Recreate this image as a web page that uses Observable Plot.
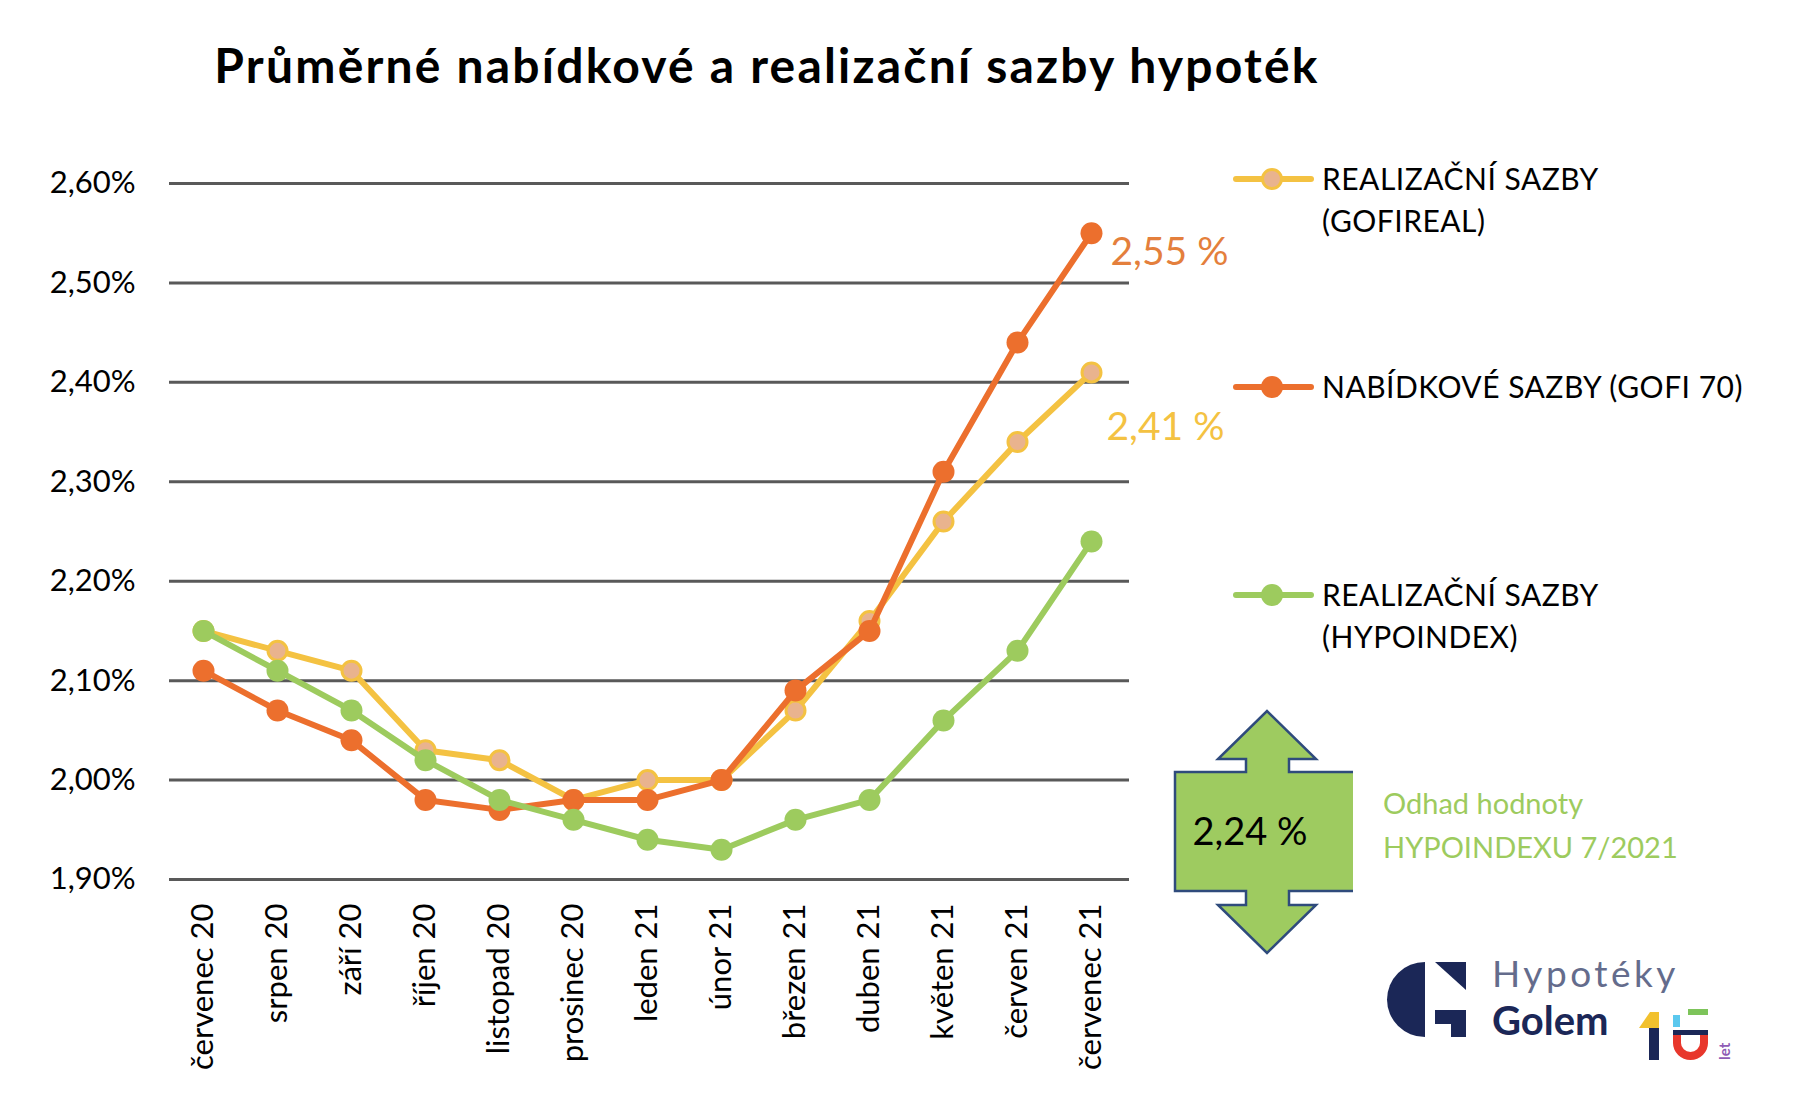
<!DOCTYPE html>
<html>
<head>
<meta charset="utf-8">
<script src="https://cdn.jsdelivr.net/npm/d3@7"></script>
<script src="https://cdn.jsdelivr.net/npm/@observablehq/plot@0.6"></script>
<style>
  html, body { margin: 0; padding: 0; background: #fff; }
  #wrap { position: relative; width: 1804px; height: 1110px; overflow: hidden; font-family: Lato, sans-serif; }
  #title { position: absolute; left: 0; top: 36px; width: 1534px; text-align: center; font: bold 48px/1.2 Lato, sans-serif; letter-spacing: 2.2px; color: #000; }
  #chart { position: absolute; left: 0; top: 150px; }
  #overlay { position: absolute; left: 0; top: 0; }
</style>
</head>
<body>
<div id="wrap">
  <div id="title">Průměrné nabídkové a realizační sazby hypoték</div>
  <div id="chart"></div>
  <svg id="overlay" width="1804" height="1110"></svg>
</div>
<script>
const months = ["červenec 20","srpen 20","září 20","říjen 20","listopad 20","prosinec 20","leden 21","únor 21","březen 21","duben 21","květen 21","červen 21","červenec 21"];
const gofireal  = [2.15,2.13,2.11,2.03,2.02,1.98,2.00,2.00,2.07,2.16,2.26,2.34,2.41];
const gofi70    = [2.11,2.07,2.04,1.98,1.97,1.98,1.98,2.00,2.09,2.15,2.31,2.44,2.55];
const hypoindex = [2.15,2.11,2.07,2.02,1.98,1.96,1.94,1.93,1.96,1.98,2.06,2.13,2.24];
const yTicks = [1.9,2.0,2.1,2.2,2.3,2.4,2.5,2.6];
const seriesNames = ["REALIZAČNÍ SAZBY (GOFIREAL)","NABÍDKOVÉ SAZBY (GOFI 70)","REALIZAČNÍ SAZBY (HYPOINDEX)"];
const hypoEstimate = 2.24;

const colYellow = "#F4C242", colPeach = "#E9B38E", colOrange = "#EC6F2D", colGreen = "#9DCB5E";
const comma = (v, d) => v.toFixed(d).replace(".", ",");

const rows = (vals, s) => vals.map((v, i) => ({month: months[i], value: v, series: s}));
const dY = rows(gofireal, seriesNames[0]);
const dO = rows(gofi70, seriesNames[1]);
const dG = rows(hypoindex, seriesNames[2]);

const chart = Plot.plot({
  width: 1804, height: 960,
  marginLeft: 169, marginRight: 675, marginTop: 33, marginBottom: 231,
  style: {fontFamily: "Lato, sans-serif", fontSize: "31px", color: "#000", background: "transparent", overflow: "visible"},
  x: {type: "point", domain: months, range: [202, 1091], padding: 0, label: null},
  y: {domain: [1.9, 2.6], label: null},
  marks: [
    Plot.ruleY(yTicks, {stroke: "#595959", strokeWidth: 3}),
    Plot.axisY({ticks: yTicks, tickFormat: d => comma(d, 2) + "%", tickSize: 0, tickPadding: 34, label: null}),
    Plot.axisX({tickRotate: -90, tickSize: 0, tickPadding: 24, label: null}),
    Plot.line(dY, {x: "month", y: "value", stroke: colYellow, strokeWidth: 6}),
    Plot.dot(dY, {x: "month", y: "value", r: 9.5, fill: colPeach, stroke: colYellow, strokeWidth: 3}),
    Plot.line(dO, {x: "month", y: "value", stroke: colOrange, strokeWidth: 6}),
    Plot.dot(dO, {x: "month", y: "value", r: 11, fill: colOrange}),
    Plot.line(dG, {x: "month", y: "value", stroke: colGreen, strokeWidth: 6}),
    Plot.dot(dG, {x: "month", y: "value", r: 11, fill: colGreen}),
    Plot.text(dO.slice(-1), {x: "month", y: "value", text: d => comma(d.value, 2) + " %", fill: "#E47F3C", fontSize: 39, textAnchor: "start", lineAnchor: "middle", dx: 19, dy: 19}),
    Plot.text(dY.slice(-1), {x: "month", y: "value", text: d => comma(d.value, 2) + " %", fill: colYellow, fontSize: 39, textAnchor: "start", lineAnchor: "middle", dx: 15, dy: 55})
  ]
});
document.getElementById("chart").appendChild(chart);

// overlay: legend, estimate arrow, logo
const ov = d3.select("#overlay");
const legend = [
  {lines: ["REALIZAČNÍ SAZBY", "(GOFIREAL)"], y: 179, stroke: colYellow, fill: colPeach, ms: colYellow},
  {lines: ["NABÍDKOVÉ SAZBY (GOFI 70)"], y: 387, stroke: colOrange, fill: colOrange, ms: null},
  {lines: ["REALIZAČNÍ SAZBY", "(HYPOINDEX)"], y: 595, stroke: colGreen, fill: colGreen, ms: null}
];
legend.forEach(l => {
  ov.append("line").attr("x1", 1236).attr("x2", 1311).attr("y1", l.y).attr("y2", l.y)
    .attr("stroke", l.stroke).attr("stroke-width", 6).attr("stroke-linecap", "round");
  ov.append("circle").attr("cx", 1272).attr("cy", l.y).attr("r", l.ms ? 9.5 : 11)
    .attr("fill", l.fill).attr("stroke", l.ms || "none").attr("stroke-width", 3);
  l.lines.forEach((t, i) => {
    ov.append("text").attr("x", 1322).attr("y", l.y + 11 + i * 42)
      .attr("font-family", "Lato, sans-serif").attr("font-size", 30).attr("letter-spacing", 0.5).attr("fill", "#000").text(t);
  });
});

// double arrow with box
const arrowPts = [[1353,772],[1289,772],[1289,759],[1316,759],[1267,711],[1218,759],[1246,759],[1246,772],[1175,772],[1175,891],[1246,891],[1246,905],[1218,905],[1267,953],[1316,905],[1289,905],[1289,891],[1353,891]];
ov.append("polygon").attr("points", arrowPts.map(p => p.join(",")).join(" ")).attr("fill", "#9ECB60");
ov.append("polyline").attr("points", arrowPts.map(p => p.join(",")).join(" ")).attr("fill", "none")
  .attr("stroke", "#2F4B7C").attr("stroke-width", 2.5).attr("stroke-linejoin", "miter");
ov.append("text").attr("x", 1250).attr("y", 845).attr("text-anchor", "middle")
  .attr("font-family", "Lato, sans-serif").attr("font-size", 38).attr("fill", "#000").text(comma(hypoEstimate, 2) + " %");
ov.append("text").attr("x", 1383).attr("y", 814).attr("font-family", "Lato, sans-serif").attr("font-size", 29).attr("fill", colGreen).text("Odhad hodnoty");
ov.append("text").attr("x", 1383).attr("y", 858).attr("font-family", "Lato, sans-serif").attr("font-size", 29).attr("fill", colGreen).text("HYPOINDEXU 7/2021");

// logo
const navy = "#1B2757";
ov.append("path").attr("d", "M1425,962 A38,37.5 0 0 0 1425,1037 Z").attr("fill", navy);
ov.append("polygon").attr("points", "1435,962 1466,962 1466,990").attr("fill", navy);
ov.append("polygon").attr("points", "1435,1010 1466,1010 1466,1037 1451,1037 1451,1024 1435,1024").attr("fill", navy);
ov.append("text").attr("x", 1492).attr("y", 987).attr("font-family", "Lato, sans-serif").attr("font-weight", 400).attr("font-size", 37).attr("letter-spacing", 3.5).attr("fill", "#646C8C").text("Hypotéky");
ov.append("text").attr("x", 1492).attr("y", 1035).attr("font-family", "Lato, sans-serif").attr("font-weight", 700).attr("font-size", 40).attr("fill", navy).text("Golem");
ov.append("polygon").attr("points", "1639,1028 1650,1012 1659,1012 1659,1028").attr("fill", "#F2C12E");
ov.append("rect").attr("x", 1649).attr("y", 1028).attr("width", 10).attr("height", 32).attr("fill", navy);
ov.append("rect").attr("x", 1688).attr("y", 1009).attr("width", 20).attr("height", 6).attr("fill", "#7DC45A");
ov.append("rect").attr("x", 1673).attr("y", 1015).attr("width", 7).attr("height", 12).attr("fill", "#5BC8EE");
ov.append("rect").attr("x", 1673).attr("y", 1030).attr("width", 35).attr("height", 5).attr("fill", navy);
ov.append("path").attr("d", "M1673,1035 L1673,1043 A17.5,17 0 0 0 1708,1043 L1708,1035 L1700,1035 L1700,1043 A9.5,9 0 0 1 1681,1043 L1681,1035 Z").attr("fill", "#E8372C");
ov.append("text").attr("transform", "translate(1730,1060) rotate(-90)").attr("font-family", "Lato, sans-serif").attr("font-weight", 700).attr("font-size", 15).attr("fill", "#8E5BB5").text("let");
</script>
</body>
</html>
